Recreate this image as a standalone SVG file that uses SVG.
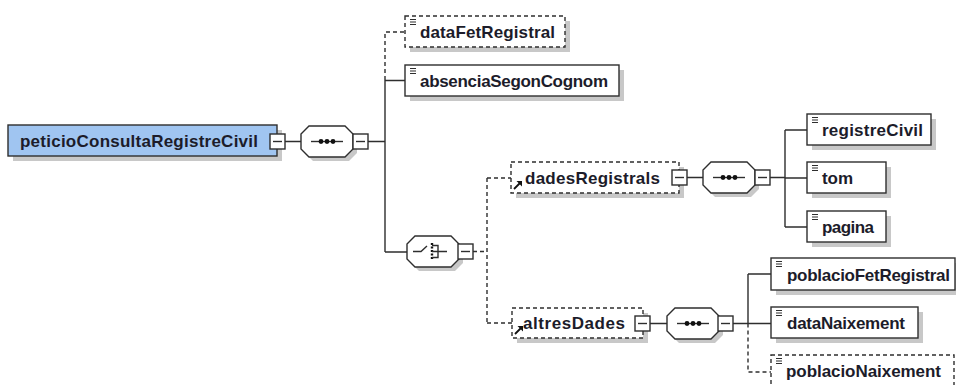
<svg xmlns="http://www.w3.org/2000/svg" xmlns:xlink="http://www.w3.org/1999/xlink" width="959" height="385" viewBox="0 0 959 385">
<style>
 .box{fill:#fff;stroke:#2e2e2e;stroke-width:1.4}
 .opt{stroke-dasharray:4 3}
 .sh{fill:#c8c8c8}
 .t{font-family:"Liberation Sans",Arial,sans-serif;font-weight:bold;font-size:17px;fill:#1c1c2a}
 .c{fill:none;stroke:#2e2e2e;stroke-width:1.4}
 .d{stroke-dasharray:4 3}
 .ic{stroke:#2e2e2e;stroke-width:1.2;fill:none}
</style>
<defs>
 <g id="minus"><rect x="0" y="0" width="15" height="15" fill="#fff" stroke="#2e2e2e" stroke-width="1.4"/><line x1="3" y1="7.5" x2="12" y2="7.5" stroke="#2e2e2e" stroke-width="1.4"/></g>
 <g id="lines"><path class="ic" d="M5,3.5 H11 M5,6 H11 M5,8.5 H11"/></g>
 <g id="ref"><path d="M3,27 L9,21" stroke="#111" stroke-width="1.8"/><path d="M11,19 L11,24.5 L5.5,19 Z" fill="#111"/></g>
 <g id="oct"><path class="sh" d="M12,4 H48 L56,12 V27 L48,35 H12 L4,27 V12 Z"/><path d="M8,0 H44 L52,8 V23 L44,31 H8 L0,23 V8 Z" fill="#fff" stroke="#2e2e2e" stroke-width="1.4"/></g>
 <g id="seq"><use href="#oct"/><path class="c" d="M10,15.5 H42"/><circle cx="20" cy="15.5" r="2.4" fill="#111"/><circle cx="26" cy="15.5" r="2.4" fill="#111"/><circle cx="32" cy="15.5" r="2.4" fill="#111"/></g>
</defs>

<g id="connectors">
 <path class="c" d="M285,141.5 H301 M368,141.5 H385 M385,80 V252 M385,80.5 H405 M385,252 H407"/>
 <path class="c d" d="M385,80 V32 H405"/>
 <path class="c d" d="M473,251.5 H487 M487,178 V323 M487,178 H511 M487,323 H512"/>
 <path class="c" d="M687,177.5 H703 M770,177.5 H785 M785,130 V227 M785,130 H807 M785,178 H807 M785,227 H807"/>
 <path class="c" d="M650,323.5 H667 M733,323.5 H748 M748,274 V323.5 M748,274 H771 M748,323.5 H771"/>
 <path class="c d" d="M748,323.5 V372 H771"/>
</g>

<g id="peticioConsultaRegistreCivil">
 <rect class="sh" x="13" y="130" width="269" height="31"/>
 <rect x="8" y="125" width="269" height="31" fill="#a0c5f1" stroke="#2e2e2e" stroke-width="1.4"/>
 <text class="t" x="20" y="147" textLength="238" lengthAdjust="spacing">peticioConsultaRegistreCivil</text>
 <use href="#minus" x="270" y="134"/>
</g>

<g id="sequence1">
 <use href="#seq" x="301" y="126"/>
 <use href="#minus" x="353" y="134"/>
</g>

<g id="dataFetRegistral">
 <rect class="sh" x="410" y="21" width="160" height="31"/>
 <rect class="box opt" x="405" y="16" width="160" height="31"/>
 <use href="#lines" x="405" y="16"/>
 <text class="t" x="420" y="38" textLength="135" lengthAdjust="spacing">dataFetRegistral</text>
</g>

<g id="absenciaSegonCognom">
 <rect class="sh" x="410" y="70" width="214" height="31"/>
 <rect class="box" x="405" y="65" width="214" height="31"/>
 <use href="#lines" x="405" y="65"/>
 <text class="t" x="420" y="87" textLength="188" lengthAdjust="spacing">absenciaSegonCognom</text>
</g>

<g id="choice">
 <use href="#oct" x="407" y="236"/>
 <path class="c" d="M413,251.5 H421 L427,246"/>
 <path d="M432,243 V260" stroke="#111" stroke-width="2.4" stroke-dasharray="2 1.5"/>
 <path class="c" d="M432,245.5 H438 V257.5 H432 M432,251.5 H447"/>
 <use href="#minus" x="458" y="244"/>
</g>

<g id="dadesRegistrals">
 <rect class="sh" x="516" y="167" width="168" height="31"/>
 <rect class="box opt" x="511" y="162" width="168" height="31"/>
 <use href="#ref" x="511" y="162"/>
 <text class="t" x="525" y="184" textLength="135" lengthAdjust="spacing">dadesRegistrals</text>
 <use href="#minus" x="672" y="170"/>
</g>

<g id="sequence2">
 <use href="#seq" x="703" y="162"/>
 <use href="#minus" x="755" y="170"/>
</g>

<g id="registreCivil">
 <rect class="sh" x="812" y="119" width="124" height="31"/>
 <rect class="box" x="807" y="114" width="124" height="31"/>
 <use href="#lines" x="807" y="114"/>
 <text class="t" x="822" y="136" textLength="101" lengthAdjust="spacing">registreCivil</text>
</g>

<g id="tom">
 <rect class="sh" x="812" y="167" width="79" height="31"/>
 <rect class="box" x="807" y="162" width="79" height="31"/>
 <use href="#lines" x="807" y="162"/>
 <text class="t" x="822" y="184" textLength="31" lengthAdjust="spacing">tom</text>
</g>

<g id="pagina">
 <rect class="sh" x="812" y="216" width="79" height="31"/>
 <rect class="box" x="807" y="211" width="79" height="31"/>
 <use href="#lines" x="807" y="211"/>
 <text class="t" x="822" y="233" textLength="52" lengthAdjust="spacing">pagina</text>
</g>

<g id="altresDades">
 <rect class="sh" x="517" y="313" width="131" height="30"/>
 <rect class="box opt" x="512" y="308" width="131" height="30"/>
 <use href="#ref" x="512" y="307"/>
 <text class="t" x="523" y="329" textLength="102" lengthAdjust="spacing">altresDades</text>
 <use href="#minus" x="635" y="316"/>
</g>

<g id="sequence3">
 <use href="#seq" x="667" y="308"/>
 <use href="#minus" x="718" y="316"/>
</g>

<g id="poblacioFetRegistral">
 <rect class="sh" x="776" y="263" width="180" height="32"/>
 <rect class="box" x="771" y="258" width="184" height="32"/>
 <use href="#lines" x="771" y="258"/>
 <text class="t" x="787" y="281" textLength="163" lengthAdjust="spacing">poblacioFetRegistral</text>
</g>

<g id="dataNaixement">
 <rect class="sh" x="776" y="312" width="147" height="31"/>
 <rect class="box" x="771" y="307" width="147" height="31"/>
 <use href="#lines" x="771" y="307"/>
 <text class="t" x="787" y="329" textLength="118" lengthAdjust="spacing">dataNaixement</text>
</g>

<g id="poblacioNaixement">
 <rect class="sh" x="776" y="360" width="178" height="31"/>
 <rect class="box opt" x="771" y="355" width="183" height="31"/>
 <use href="#lines" x="771" y="355"/>
 <text class="t" x="786" y="377" textLength="155" lengthAdjust="spacing">poblacioNaixement</text>
</g>
</svg>
